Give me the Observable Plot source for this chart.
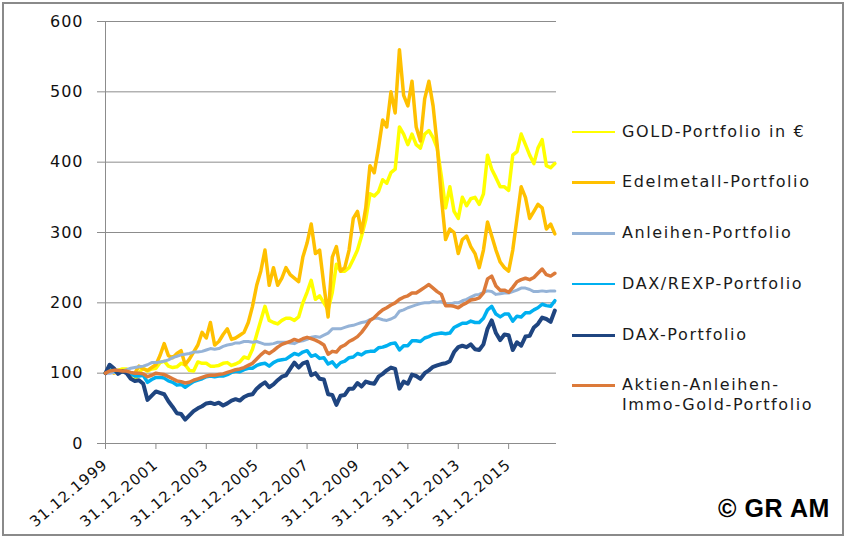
<!DOCTYPE html>
<html><head><meta charset="utf-8">
<script src="https://cdn.jsdelivr.net/npm/d3@7"></script>
<script src="https://cdn.jsdelivr.net/npm/@observablehq/plot@0.6"></script>
<style>
html,body{margin:0;padding:0;background:#fff;}
#wrap{position:relative;width:846px;height:538px;overflow:hidden;font-family:"DejaVu Sans",sans-serif;}
#frame{position:absolute;left:2px;top:2px;width:842px;height:534px;box-sizing:border-box;border:2px solid #8a8a8a;pointer-events:none;}
#chart{position:absolute;left:0;top:0;}
#chart text{letter-spacing:1px;}
.item{position:absolute;left:572px;font-size:16px;line-height:20px;letter-spacing:1.6px;color:#1a1a1a;white-space:nowrap;}
.item .sw{position:absolute;left:0;top:9px;width:43px;height:2.5px;}
.item .tx{position:absolute;left:50px;top:0;}
#copy{position:absolute;left:718px;top:494px;font-family:"Liberation Sans",Arial,sans-serif;font-weight:bold;font-size:25px;letter-spacing:0.6px;color:#000;white-space:nowrap;}
</style></head>
<body>
<div id="wrap">
  <div id="chart"></div>
  <div id="legend"></div>
  <div id="copy">© GR AM</div>
  <div id="frame"></div>
</div>
<script>
// bimonthly observation dates (first of month = end of previous month)
const dates = [
"2000-01","2000-03","2000-05","2000-07","2000-09","2000-11",
"2001-01","2001-03","2001-05","2001-07","2001-09","2001-11",
"2002-01","2002-03","2002-05","2002-07","2002-09","2002-11",
"2003-01","2003-03","2003-05","2003-07","2003-09","2003-11",
"2004-01","2004-03","2004-05","2004-07","2004-09","2004-11",
"2005-01","2005-03","2005-05","2005-07","2005-09","2005-11",
"2006-01","2006-03","2006-05","2006-07","2006-09","2006-11",
"2007-01","2007-03","2007-05","2007-07","2007-09","2007-11",
"2008-01","2008-03","2008-05","2008-07","2008-09","2008-11",
"2009-01","2009-03","2009-05","2009-07","2009-09","2009-11",
"2010-01","2010-03","2010-05","2010-07","2010-09","2010-11",
"2011-01","2011-03","2011-05","2011-07","2011-09","2011-11",
"2012-01","2012-03","2012-05","2012-07","2012-09","2012-11",
"2013-01","2013-03","2013-05","2013-07","2013-09","2013-11",
"2014-01","2014-03","2014-05","2014-07","2014-09","2014-11",
"2015-01","2015-03","2015-05","2015-07","2015-09","2015-11",
"2016-01","2016-03","2016-05","2016-07","2016-09","2016-11",
"2017-01","2017-03","2017-05","2017-07","2017-09","2017-11"
];

const gold = [
100,108,103,104,106,106,
93,90,101,107,103,106,
107,115,117,110,108,109,
114,112,104,103,116,114,
114,110,110,111,114,115,
111,113,116,123,121,134,
155,175,195,175,172,170,
175,178,178,175,180,200,
215,232,205,210,200,190,
215,255,245,245,250,262,
275,295,318,355,352,358,
375,370,385,390,450,440,
425,440,425,420,440,445,
435,420,380,335,365,330,
320,350,338,348,350,340,
355,410,390,378,365,365,
360,410,415,440,425,410,
398,420,432,395,392,398
];

const edelmetall = [
100,104,100,102,103,101,
97,100,110,106,104,108,
112,125,142,125,122,128,
132,112,120,130,140,158,
150,172,140,145,155,163,
148,150,154,158,172,195,
225,245,275,225,250,225,
235,250,240,235,230,265,
285,312,270,275,225,180,
265,280,245,250,275,320,
330,300,335,395,385,420,
460,450,500,470,560,495,
480,515,450,430,490,515,
480,425,350,290,305,300,
270,290,295,280,270,250,
275,315,295,275,258,250,
245,275,320,365,350,320,
330,340,335,305,312,298
];

const anleihen = [
100,100,101,102,103,105,
107,108,109,110,112,115,
115,116,117,119,122,124,
126,127,128,130,130,131,
133,135,134,135,138,140,
141,143,143,145,145,144,
145,143,141,141,142,144,
144,144,143,142,145,146,
148,151,152,151,154,157,
163,163,163,165,167,168,
170,172,173,176,178,178,
176,175,177,180,188,190,
193,195,197,199,200,200,
202,201,202,198,198,200,
200,203,205,208,211,212,
215,217,216,212,213,214,
214,216,218,221,221,219,
216,216,217,216,217,217
];

const daxRexp = [
100,105,104,100,103,102,
99,96,96,97,87,91,
94,94,93,89,87,83,
84,80,84,88,90,92,
95,96,95,96,96,98,
101,103,102,105,107,107,
111,113,114,110,115,118,
119,120,124,128,126,130,
132,124,126,121,122,113,
116,109,115,117,122,123,
128,126,130,131,131,136,
137,139,142,143,133,139,
139,146,146,145,150,152,
155,156,157,156,157,165,
168,171,171,174,172,172,
178,190,195,184,180,184,
184,174,181,180,186,186,
190,193,198,196,195,203
];

const dax = [
100,112,107,99,103,100,
92,89,90,85,62,68,
74,72,70,60,52,43,
42,34,40,46,50,53,
57,58,56,58,54,57,
61,63,61,66,69,70,
78,83,87,80,84,90,
95,97,106,115,108,114,
116,97,100,92,91,70,
69,55,68,69,78,78,
86,81,88,86,85,95,
99,104,108,106,78,88,
85,98,96,92,100,104,
109,111,113,114,117,130,
137,139,137,141,134,133,
141,163,175,157,147,155,
154,133,144,139,152,153,
165,170,179,177,173,189
];

const aktienMix = [
100,103,104,104,103,103,
101,100,100,99,95,97,
100,99,98,95,92,89,
88,86,87,90,92,94,
96,97,97,98,99,101,
103,105,106,108,111,114,
120,126,131,128,132,137,
141,143,145,148,146,149,
151,149,147,144,140,127,
131,130,137,140,145,148,
152,158,166,175,179,185,
190,193,197,200,205,208,
210,214,214,218,222,226,
221,216,212,196,196,195,
193,197,200,204,205,207,
214,234,238,224,218,218,
215,222,230,233,235,233,
236,242,248,240,238,242
];

const seriesNames = ["GOLD-Portfolio in €","Edelmetall-Portfolio","Anleihen-Portfolio","DAX/REXP-Portfolio","DAX-Portfolio","Aktien-Anleihen-\nImmo-Gold-Portfolio"];
const seriesColors = ["#FFFF00","#FFC000","#95B3D7","#00B0F0","#1F4580","#DC7A3A"];
const seriesValues = [gold, edelmetall, anleihen, daxRexp, dax, aktienMix];
const seriesWidths = [3.5,3.5,3,3.5,4,3.5];

const yTicks = [0,100,200,300,400,500,600];
const xTickDates = ["2000-01","2002-01","2004-01","2006-01","2008-01","2010-01","2012-01","2014-01","2016-01"];
const xTickLabels = ["31.12.1999","31.12.2001","31.12.2003","31.12.2005","31.12.2007","31.12.2009","31.12.2011","31.12.2013","31.12.2015"];

const parse = d3.utcParse("%Y-%m");
const xTicks = xTickDates.map(parse);
const xDomain = [parse("2000-01"), d3.utcParse("%Y-%m-%d")("2017-11-25")];

const lineMarks = seriesValues.map((vals, s) =>
  Plot.line(vals.map((v, i) => ({date: parse(dates[i]), value: v})), {
    x: "date", y: "value", stroke: seriesColors[s], strokeWidth: seriesWidths[s],
    strokeLinejoin: "round", strokeLinecap: "round"
  })
);

const chart = Plot.plot({
  width: 846, height: 538,
  marginLeft: 105, marginRight: 290, marginTop: 21, marginBottom: 95,
  style: {fontFamily: "DejaVu Sans, sans-serif", fontSize: "16px", color: "#111", background: "transparent", overflow: "visible"},
  x: {type: "utc", domain: xDomain},
  y: {domain: [0, 600]},
  marks: [
    Plot.gridY(yTicks, {stroke: "#8c8c8c", strokeOpacity: 1, strokeWidth: 1}),
    Plot.axisY(yTicks, {tickSize: 8, tickPadding: 14, stroke: "#8c8c8c", strokeOpacity: 1, fontSize: 16, label: null, tickFormat: d => String(d)}),
    Plot.ruleX([xDomain[0]], {stroke: "#8c8c8c", strokeWidth: 1}),
    Plot.ruleY([0], {stroke: "#8c8c8c", strokeWidth: 1}),
    Plot.axisX(xTicks, {tickSize: 6, tickPadding: 13, tickRotate: -40, stroke: "#8c8c8c", strokeOpacity: 1, fontSize: 15, label: null,
      tickFormat: d => xTickLabels[xTicks.findIndex(t => +t === +d)]}),
    ...lineMarks
  ]
});
document.getElementById("chart").appendChild(chart);

// legend
const legendTops = [131.5, 182, 233, 283.5, 335, 385];
const legend = document.getElementById("legend");
seriesNames.forEach((name, i) => {
  const item = document.createElement("div");
  item.className = "item";
  item.style.top = (legendTops[i] - 10) + "px";
  const sw = document.createElement("div");
  sw.className = "sw";
  sw.style.background = seriesColors[i];
  const tx = document.createElement("div");
  tx.className = "tx";
  tx.innerHTML = name.split("\n").join("<br>");
  item.appendChild(sw); item.appendChild(tx);
  legend.appendChild(item);
});
</script>
</body></html>
